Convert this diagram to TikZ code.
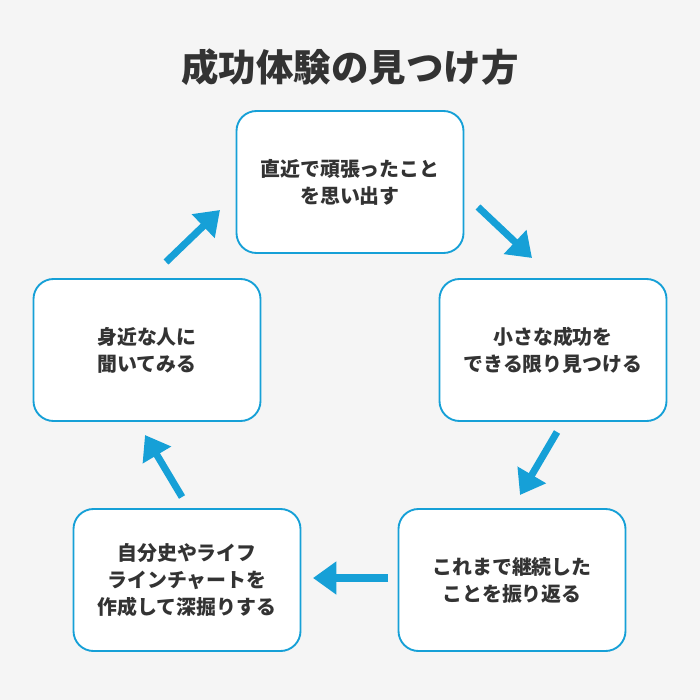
\documentclass[tikz,border=0pt]{standalone}
\usepackage{fontspec}
\setmainfont{Noto Sans CJK JP}
\usetikzlibrary{arrows.meta}
\definecolor{cbg}{RGB}{245,245,245}
\definecolor{ccyan}{RGB}{22,160,215}
\definecolor{ctext}{RGB}{51,51,51}

\begin{document}
\begin{tikzpicture}[x=0.03cm,y=-0.03cm,
    stepbox/.style={draw=ccyan,line width=1.6pt,fill=white,rounded corners=0.6cm,
        minimum width=6.81cm,minimum height=4.26cm,align=center,
        text=ctext,font=\bfseries\fontsize{17}{23}\selectfont},
    flow/.style={draw=ccyan,line width=6pt,-{Triangle[length=0.7cm,width=0.95cm]}}]

\fill[cbg] (0,0) rectangle (700,700);

\node[text=ctext,font=\bfseries\fontsize{32}{36}\selectfont] (title) at (350,67) {成功体験の見つけ方};

\node[stepbox] (recall) at (350,182) {直近で頑張ったこと\\を思い出す};
\node[stepbox] (small) at (553,350) {小さな成功を\\できる限り見つける};
\node[stepbox] (keep) at (512,580) {これまで継続した\\ことを振り返る};
\node[stepbox] (history) at (187,580) {自分史やライフ\\ラインチャートを\\作成して深掘りする};
\node[stepbox] (ask) at (147,350) {身近な人に\\聞いてみる};

% arrows between the steps
\coordinate (a1) at (478,207); \coordinate (b1) at (532,258);
\coordinate (a2) at (557,432); \coordinate (b2) at (520,495);
\coordinate (a3) at (388,578); \coordinate (b3) at (313,578);
\coordinate (a4) at (182,497); \coordinate (b4) at (145,435);
\coordinate (a5) at (166,262); \coordinate (b5) at (220,210);
\foreach \i in {1,...,5}
    \draw[flow] (a\i) -- (b\i);

\end{tikzpicture}
\end{document}
